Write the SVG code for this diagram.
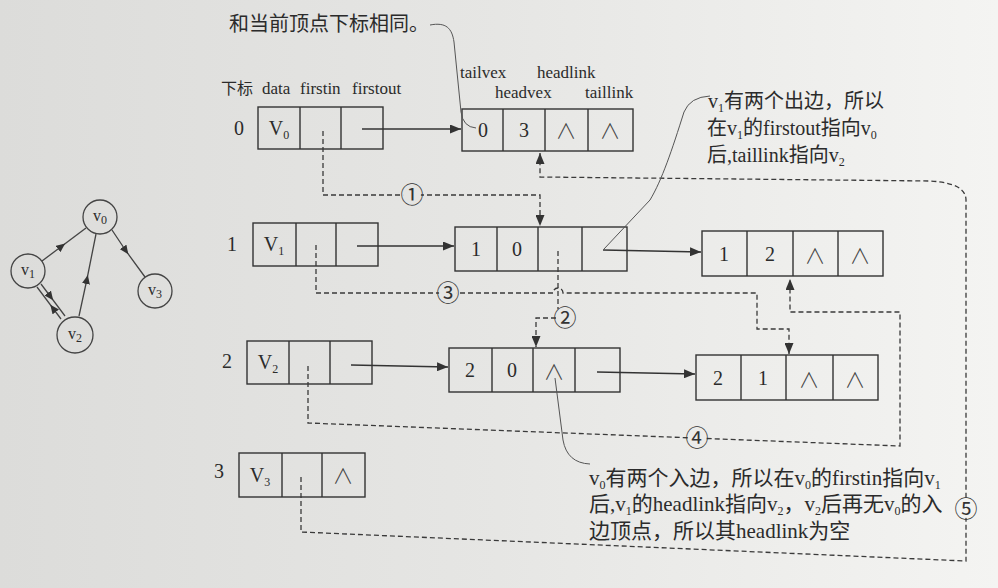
<svg xmlns="http://www.w3.org/2000/svg" width="998" height="588" viewBox="0 0 998 588">
<defs>
<linearGradient id="bg" gradientUnits="userSpaceOnUse" x1="0" y1="0" x2="998" y2="0">
<stop offset="0" stop-color="#dcdcda"/>
<stop offset="0.5" stop-color="#e6e6e4"/>
<stop offset="1" stop-color="#f4f4f2"/>
</linearGradient>
<marker id="arr" markerUnits="userSpaceOnUse" markerWidth="11" markerHeight="9" refX="11" refY="4.5" orient="auto">
<path d="M0,0 L11,4.5 L0,9 z" fill="#333"/>
</marker>
<marker id="mid" markerUnits="userSpaceOnUse" markerWidth="9" markerHeight="8" refX="5" refY="4" orient="auto">
<path d="M0,0 L9,4 L0,8 z" fill="#333"/>
</marker>
<style>
.box{fill:none;stroke:#333;stroke-width:1.4}
.num{font-family:"Liberation Serif",serif;font-size:20px;fill:#2b2b2b;text-anchor:middle}
.nil{font-family:"Noto Sans CJK SC",sans-serif;font-size:21px;fill:#444;text-anchor:middle;font-weight:300}
.lbl{font-family:"Liberation Serif",serif;font-size:17px;fill:#2b2b2b}
.cjk{font-family:"Liberation Serif","Noto Sans CJK SC",serif;font-size:20px;fill:#2b2b2b}
.cjk2{font-family:"Liberation Serif","Noto Sans CJK SC",serif;font-size:21px;fill:#2b2b2b}
.sub{font-size:12px}
.solid{fill:none;stroke:#333;stroke-width:1.3}
.dash{fill:none;stroke:#3a3a3a;stroke-width:1.3;stroke-dasharray:5 3}
.lead{fill:none;stroke:#555;stroke-width:1}
.circ{font-family:"Noto Sans CJK SC",sans-serif;font-size:23px;fill:#333;text-anchor:middle}
.node{fill:none;stroke:#444;stroke-width:1.3}
.gl{fill:none;stroke:#444;stroke-width:1.3}
.vt{font-family:"Liberation Serif",serif;font-size:16px;fill:#2b2b2b;text-anchor:middle}
</style>
</defs>
<rect width="998" height="588" fill="url(#bg)"/>

<!-- small graph -->
<g id="graph">
<g id="gv0"><circle class="node" cx="100" cy="217" r="17"/><text class="vt" x="100" y="221">v<tspan class="sub" dy="3">0</tspan></text></g>
<g id="gv1"><circle class="node" cx="28" cy="271" r="17"/><text class="vt" x="28" y="275">v<tspan class="sub" dy="3">1</tspan></text></g>
<g id="gv2"><circle class="node" cx="75" cy="335" r="18"/><text class="vt" x="75" y="339">v<tspan class="sub" dy="3">2</tspan></text></g>
<g id="gv3"><circle class="node" cx="155" cy="291" r="17"/><text class="vt" x="155" y="295">v<tspan class="sub" dy="3">3</tspan></text></g>
<g id="gedges">
<path class="gl" d="M42,261 L62,246 L86,228" marker-mid="url(#mid)"/>
<path class="gl" d="M112,230 L126,251 L145,277" marker-mid="url(#mid)"/>
<path class="gl" d="M79,316 L87,279 L96,234" marker-mid="url(#mid)"/>
<path class="gl" d="M41,284 L50.75,297 L65,316" marker-mid="url(#mid)"/>
<path class="gl" d="M61,319 L52.75,308 L37,287" marker-mid="url(#mid)"/>
</g>
</g>

<!-- header labels -->
<g id="headers">
<text class="lbl" y="94"><tspan x="221" font-family="Liberation Serif, Noto Sans CJK SC, serif" font-size="16">下标</tspan><tspan x="262">data</tspan><tspan x="300">firstin</tspan><tspan x="352">firstout</tspan></text>
<text class="lbl" x="460" y="78">tailvex</text>
<text class="lbl" x="537" y="78">headlink</text>
<text class="lbl" x="495" y="98">headvex</text>
<text class="lbl" x="585" y="98">taillink</text>
</g>

<!-- vertex array -->
<g id="row0">
<text class="num" x="239" y="135">0</text>
<rect class="box" x="258" y="107" width="125" height="42"/>
<path class="box" d="M300,107 V149 M341,107 V149"/>
<text class="num" x="279" y="135">V<tspan class="sub" dy="4">0</tspan></text>
</g>
<g id="row1">
<text class="num" x="232" y="251">1</text>
<rect class="box" x="253" y="223" width="125" height="43"/>
<path class="box" d="M296,223 V266 M336,223 V266"/>
<text class="num" x="274" y="251">V<tspan class="sub" dy="4">1</tspan></text>
</g>
<g id="row2">
<text class="num" x="227" y="368">2</text>
<rect class="box" x="247" y="341" width="125" height="43"/>
<path class="box" d="M289,341 V384 M330,341 V384"/>
<text class="num" x="268" y="369">V<tspan class="sub" dy="4">2</tspan></text>
</g>
<g id="row3">
<text class="num" x="219" y="478">3</text>
<rect class="box" x="239" y="453" width="126" height="44"/>
<path class="box" d="M282,453 V497 M322,453 V497"/>
<text class="num" x="260" y="482">V<tspan class="sub" dy="4">3</tspan></text>
<text class="nil" x="343" y="483">∧</text>
</g>

<!-- arc nodes -->
<g id="e03">
<rect class="box" x="462" y="109" width="171" height="42"/>
<path class="box" d="M503,109 V151 M545,109 V151 M588,109 V151"/>
<text class="num" x="483" y="137">0</text>
<text class="num" x="524" y="137">3</text>
<text class="nil" x="566" y="138">∧</text>
<text class="nil" x="610" y="138">∧</text>
</g>
<g id="e10">
<rect class="box" x="455" y="227" width="172" height="44"/>
<path class="box" d="M497,227 V271 M538,227 V271 M582,227 V271"/>
<text class="num" x="476" y="256">1</text>
<text class="num" x="517" y="256">0</text>
</g>
<g id="e12">
<rect class="box" x="702" y="231" width="181" height="45"/>
<path class="box" d="M747,231 V276 M793,231 V276 M838,231 V276"/>
<text class="num" x="724" y="261">1</text>
<text class="num" x="770" y="261">2</text>
<text class="nil" x="815" y="263">∧</text>
<text class="nil" x="860" y="263">∧</text>
</g>
<g id="e20">
<rect class="box" x="449" y="348" width="171" height="44"/>
<path class="box" d="M492,348 V392 M533,348 V392 M575,348 V392"/>
<text class="num" x="470" y="377">2</text>
<text class="num" x="512" y="377">0</text>
<text class="nil" x="554" y="379">∧</text>
</g>
<g id="e21">
<rect class="box" x="696" y="355" width="182" height="45"/>
<path class="box" d="M741,355 V400 M786,355 V400 M833,355 V400"/>
<text class="num" x="718" y="385">2</text>
<text class="num" x="763" y="385">1</text>
<text class="nil" x="809" y="387">∧</text>
<text class="nil" x="855" y="387">∧</text>
</g>

<!-- connectors -->
<g id="connectors">
<path class="solid" d="M362,129 H461" marker-end="url(#arr)"/>
<path class="solid" d="M357,246 H454" marker-end="url(#arr)"/>
<path class="solid" d="M603,250 L701,252" marker-end="url(#arr)"/>
<path class="solid" d="M351,365 L448,367" marker-end="url(#arr)"/>
<path class="solid" d="M597,372 L695,374" marker-end="url(#arr)"/>

<path class="dash" d="M323,131 V195 H540 V226" marker-end="url(#arr)"/>
<path class="dash" d="M558,251 V309"/>
<path class="dash" d="M556,318 H536 V347" marker-end="url(#arr)"/>
<path class="dash" d="M316,245 V293 H553 A5,5 0 0 1 563,293 H757 V329 H789 V354" marker-end="url(#arr)"/>
<path class="dash" d="M308,366 V423 L900,446 V312 H790 V279" marker-end="url(#arr)"/>
<path class="dash" d="M301,477 V532 L966,561 V200 Q966,183 930,181 L540,177 V153" marker-end="url(#arr)"/>

<g id="labels">
<circle cx="412" cy="195" r="9" fill="url(#bg)"/><text class="circ" x="412" y="203">①</text>
<circle cx="565" cy="318" r="9" fill="url(#bg)"/><text class="circ" x="565" y="326">②</text>
<circle cx="448" cy="293" r="9" fill="url(#bg)"/><text class="circ" x="448" y="301">③</text>
<circle cx="697" cy="438" r="9" fill="url(#bg)"/><text class="circ" x="697" y="446">④</text>
<circle cx="966" cy="509" r="9" fill="url(#bg)"/><text class="circ" x="966" y="517">⑤</text>
</g>
</g>

<!-- annotations -->
<g id="notes">
<path class="lead" d="M430,25 C446,22 452,28 454,42 L461,112 Q463,127 476,128"/>
<text class="cjk" x="229" y="31" font-size="19">和当前顶点下标相同。</text>

<path class="lead" d="M604,249 L650,200 C662,180 672,150 684,112 Q690,97 710,96"/>
<text class="cjk" x="708" y="108">v<tspan class="sub" dy="4">1</tspan><tspan dy="-4">有两个出边，所以</tspan></text>
<text class="cjk" x="707" y="135">在v<tspan class="sub" dy="4">1</tspan><tspan dy="-4">的firstout指向v</tspan><tspan class="sub" dy="4">0</tspan></text>
<text class="cjk" x="707" y="162">后,taillink指向v<tspan class="sub" dy="4">2</tspan></text>

<path class="lead" d="M555,378 L563,440 Q567,463 590,464"/>
<text class="cjk2" x="589" y="485">v<tspan class="sub" dy="4">0</tspan><tspan dy="-4">有两个入边，所以在v</tspan><tspan class="sub" dy="4">0</tspan><tspan dy="-4">的firstin指向v</tspan><tspan class="sub" dy="4">1</tspan></text>
<text class="cjk2" x="589" y="511">后,v<tspan class="sub" dy="4">1</tspan><tspan dy="-4">的headlink指向v</tspan><tspan class="sub" dy="4">2</tspan><tspan dy="-4">，v</tspan><tspan class="sub" dy="4">2</tspan><tspan dy="-4">后再无v</tspan><tspan class="sub" dy="4">0</tspan><tspan dy="-4">的入</tspan></text>
<text class="cjk2" x="589" y="538">边顶点，所以其headlink为空</text>
</g>
</svg>
